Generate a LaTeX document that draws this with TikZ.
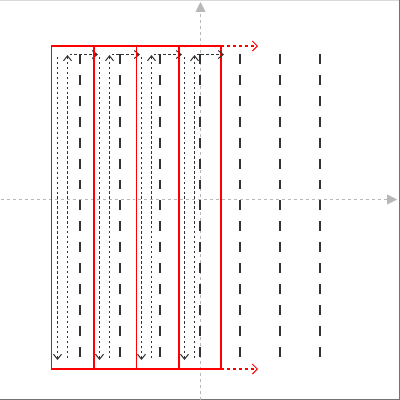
\documentclass[tikz,border=0pt]{standalone}
\usetikzlibrary{arrows.meta}
\begin{document}
\begin{tikzpicture}[x=1bp,y=-1bp,
  axisline/.style={draw=black!28,line width=0.9pt,dash pattern=on 3pt off 3pt,-{Triangle[length=10pt,width=10pt]}},
  guide/.style={draw=black!80,line width=1.3pt,dash pattern=on 10pt off 11pt},
  moveline/.style={draw=black!80,line width=1.5pt,dash pattern=on 2.5pt off 2.5pt,-{Straight Barb[length=5pt,width=8pt,line width=1pt]}},
  cell/.style={draw=red,line width=1.2pt},
  redmove/.style={draw=red,line width=1.2pt,dash pattern=on 3pt off 3pt,-{Straight Barb[length=5pt,width=10pt,line width=1pt]}}]
\useasboundingbox (0,0) rectangle (400,400);
\fill[white] (0,0) rectangle (400,400);
\draw[black!15,line width=1pt] (0,0.5) -- (400,0.5);
\draw[black!55,line width=1pt] (399.5,0) -- (399.5,400);
\draw[black!55,line width=1pt] (0,399.5) -- (400,399.5);
% axes
\coordinate (xa) at (1,199.5); \coordinate (xb) at (397,199.5);
\coordinate (ya) at (200.5,400); \coordinate (yb) at (200.5,2);
\draw[axisline] (xa) -- (xb);
\draw[axisline] (ya) -- (yb);
% guide lines
\foreach \x in {80,120,160,200,240,280,320}
  \draw[guide] (\x,54) -- (\x,362);
% cells
\foreach \L/\d/\u/\n in {51.5/57.5/67.5/98, 94/99.5/109.5/140, 136.5/141.5/151.5/182, 178.5/184.5/194.5/224}{
  \draw[cell] (\L,46) rectangle ({\L+42.5},369);
  \draw[moveline] (\d,57) -- (\d,360);
  \draw[moveline] (\u,358) -- (\u,55);
  \draw[moveline] ({\u+2},54.5) -- (\n,54.5);
}
\coordinate (ra) at (221,46); \coordinate (rb) at (258,46);
\coordinate (rc) at (221,369); \coordinate (rd) at (258,369);
\draw[redmove] (ra) -- (rb);
\draw[redmove] (rc) -- (rd);
\end{tikzpicture}
\end{document}
